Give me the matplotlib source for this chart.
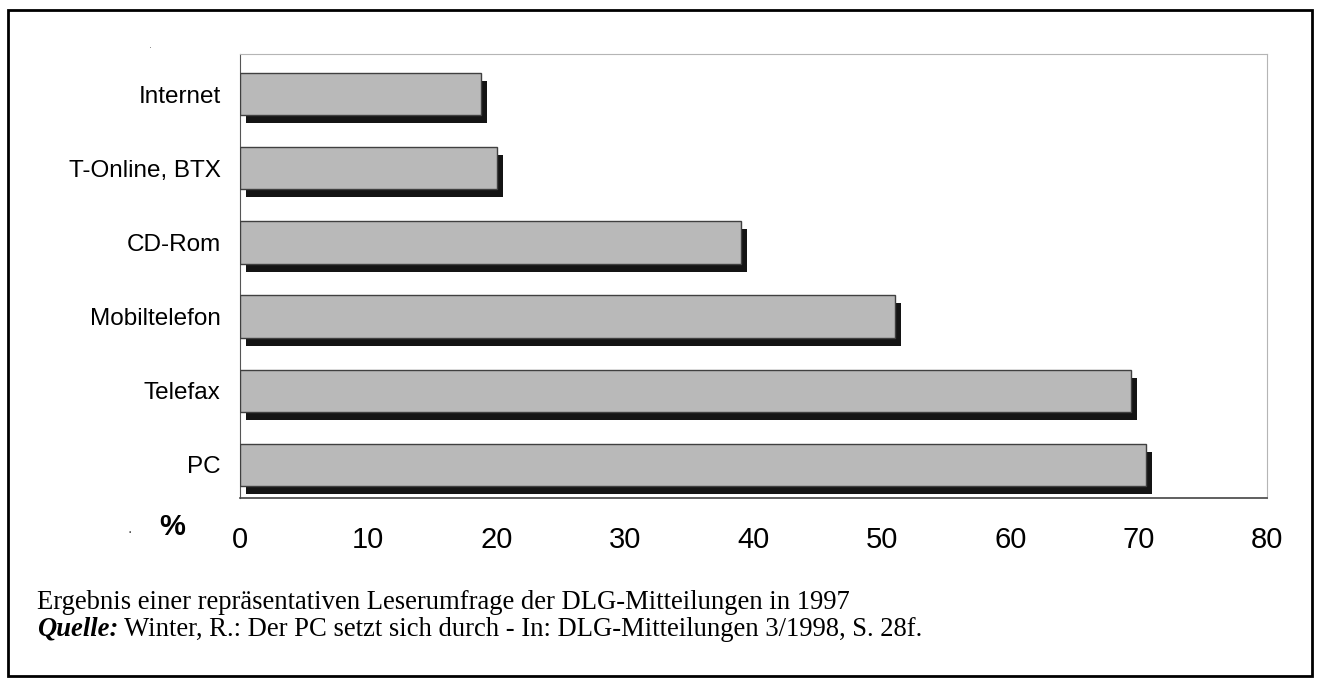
import matplotlib
matplotlib.use("Agg")
import matplotlib.pyplot as plt
import matplotlib.transforms as mtransforms
from matplotlib.patches import Rectangle

# data (percent of readers)
categories = ["PC", "Telefax", "Mobiltelefon", "CD-Rom", "T-Online, BTX", "Internet"]
values = [70.6, 69.4, 51.0, 39.0, 20.0, 18.8]
x_ticks = [0, 10, 20, 30, 40, 50, 60, 70, 80]

caption_1 = "Ergebnis einer repräsentativen Leserumfrage der DLG-Mitteilungen in 1997"
caption_2 = " Winter, R.: Der PC setzt sich durch - In: DLG-Mitteilungen 3/1998, S. 28f."

W, H = 1319, 684
fig = plt.figure(figsize=(W / 100, H / 100), dpi=100)
fig.patch.set_facecolor("white")

# axes box in pixel terms
left, right, top, bottom = 240, 1267, 54, 498
ax = fig.add_axes([left / W, 1 - bottom / H, (right - left) / W, (bottom - top) / H])

ypos = list(range(len(categories)))
bar_h = 0.57

# drop shadow: same bars shifted right/down by a few pixels
shadow_tr = mtransforms.offset_copy(ax.transData, fig=fig, x=6, y=-8, units="dots")
ax.barh(ypos, values, height=bar_h, color="#141414", edgecolor="none",
        transform=shadow_tr, zorder=2)
ax.barh(ypos, values, height=bar_h, color="#b9b9b9", edgecolor="#404040",
        linewidth=1.0, zorder=3)

ax.set_xlim(0, 80)
ax.set_ylim(-0.445, 5.54)
ax.set_xticks(x_ticks)
ax.set_xticklabels([str(t) for t in x_ticks], fontsize=21, family="Liberation Sans")
ax.set_yticks(ypos)
ax.set_yticklabels(categories, fontsize=17.5, family="Liberation Sans")
ax.tick_params(axis="x", length=0, pad=20)
ax.tick_params(axis="y", length=0, pad=14)

ax.spines["left"].set_color("#555555")
ax.spines["bottom"].set_color("#444444")
ax.spines["bottom"].set_linewidth(1.2)
ax.spines["top"].set_color("#b5b5b5")
ax.spines["right"].set_color("#b5b5b5")

# unit label left of the x tick labels
fig.text(172 / W, 1 - 527 / H, "%", fontsize=21, fontweight="bold",
         family="Liberation Sans", ha="center", va="center")
# small specks from the scan
fig.text(130 / W, 1 - 533 / H, "·", fontsize=10, color="#444444", ha="center", va="center")
fig.text(150 / W, 1 - 48 / H, "·", fontsize=7, color="#777777", ha="center", va="center")

# caption below the chart
cap_size = 19.2
fig.text(37 / W, 1 - 609 / H, caption_1, fontsize=cap_size, family="Liberation Serif",
         ha="left", va="baseline")
q = fig.text(37 / W, 1 - 636 / H, "Quelle:", fontsize=cap_size, family="Liberation Serif",
             fontweight="bold", style="italic", ha="left", va="baseline")
fig.canvas.draw()
bb = q.get_window_extent()
fig.text(bb.x1 / W, 1 - 636 / H, caption_2, fontsize=cap_size, family="Liberation Serif",
         ha="left", va="baseline")

# outer frame
fig.patches.append(Rectangle((8 / W, 1 - 676 / H), (1312 - 8) / W, (676 - 10) / H,
                             transform=fig.transFigure, fill=False,
                             edgecolor="black", linewidth=2))

fig.savefig("out.png", dpi=100)
